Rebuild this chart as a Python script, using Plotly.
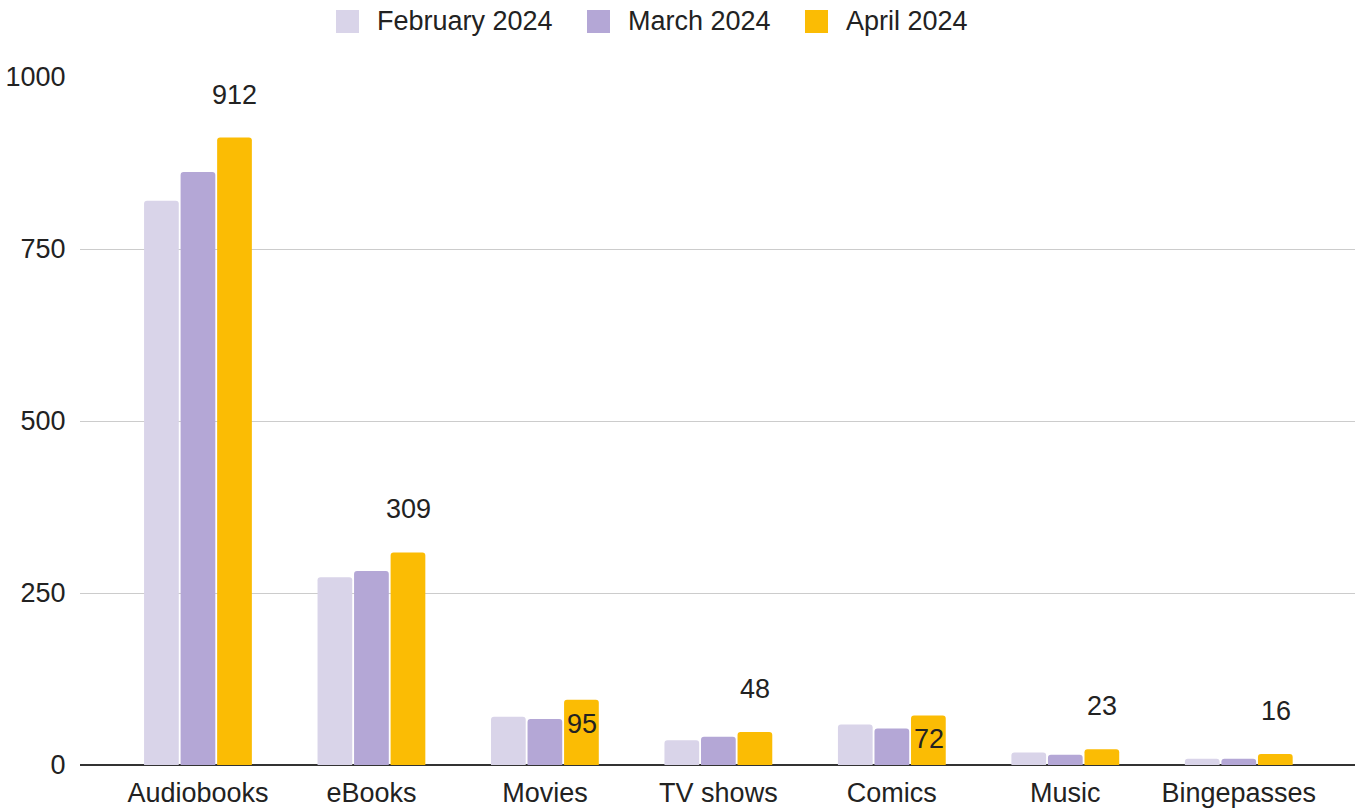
import plotly.graph_objects as go

# Monthly content counts per category
categories = ["Audiobooks", "eBooks", "Movies", "TV shows", "Comics", "Music", "Bingepasses"]
feb_2024 = [820, 273, 70, 36, 59, 18, 9]
mar_2024 = [862, 282, 67, 41, 53, 15, 9]
apr_2024 = [912, 309, 95, 48, 72, 23, 16]
series_names = ["February 2024", "March 2024", "April 2024"]
series_colors = ["#D9D4E9", "#B4A7D6", "#FBBC04"]
# April labels: drawn inside the bar for these categories, above it elsewhere
inside_label = ["Movies", "Comics"]

FONT = "Liberation Sans, Arial, sans-serif"
FS = 27
TXT = "#222222"

W, H = 1363, 810
ML, MR, MT, MB = 80, 8, 77, 45
PW, PH = W - ML - MR, H - MT - MB


def px_x(px):
    return (px - ML) / PW


def px_y(py):
    return 1 - (py - MT) / PH


fig = go.Figure()
for name, vals, col in zip(series_names, [feb_2024, mar_2024, apr_2024], series_colors):
    fig.add_trace(go.Bar(
        x=categories, y=vals, name=name, showlegend=False,
        marker=dict(color=col, line=dict(width=0)),
    ))

# Value labels for the April series
for cat, v in zip(categories, apr_2024):
    fig.add_annotation(
        x=cat, y=v, xref="x", yref="y", text=str(v), showarrow=False,
        xshift=37, yshift=(-24 if cat in inside_label else 43),
        font=dict(family=FONT, size=FS, color=TXT),
    )

# Legend row along the top: colour swatch followed by series name
legend_swatch_left = [336, 587, 805]
for name, col, sx in zip(series_names, series_colors, legend_swatch_left):
    fig.add_shape(
        type="rect", xref="paper", yref="paper",
        x0=px_x(sx), x1=px_x(sx + 23), y0=px_y(33), y1=px_y(10),
        fillcolor=col, line=dict(width=0), layer="above",
    )
    fig.add_annotation(
        x=px_x(sx + 39), y=px_y(21), xref="paper", yref="paper",
        text=name, showarrow=False, xanchor="left", yanchor="middle",
        font=dict(family=FONT, size=FS, color=TXT),
    )

fig.update_layout(
    width=W, height=H,
    margin=dict(l=ML, r=MR, t=MT, b=MB, autoexpand=False),
    paper_bgcolor="white", plot_bgcolor="white",
    font=dict(family=FONT, size=FS, color=TXT),
    barmode="group", bargap=0.368, bargroupgap=0.05,
    barcornerradius=3,
    showlegend=False,
    xaxis=dict(
        range=[-0.68, 6.67], showgrid=False, showline=False, zeroline=False,
        automargin=False,
        ticks="outside", ticklen=4, tickcolor="rgba(0,0,0,0)",
        tickfont=dict(family=FONT, size=FS, color=TXT),
    ),
    yaxis=dict(
        range=[0, 1000], tickvals=[0, 250, 500, 750, 1000],
        automargin=False,
        showgrid=True, gridcolor="#CCCCCC", gridwidth=1,
        zeroline=True, zerolinecolor="#333333", zerolinewidth=2,
        showline=False, ticks="outside", ticklen=8, tickcolor="rgba(0,0,0,0)",
        tickfont=dict(family=FONT, size=FS, color=TXT),
    ),
)

fig.write_html("out.html")
